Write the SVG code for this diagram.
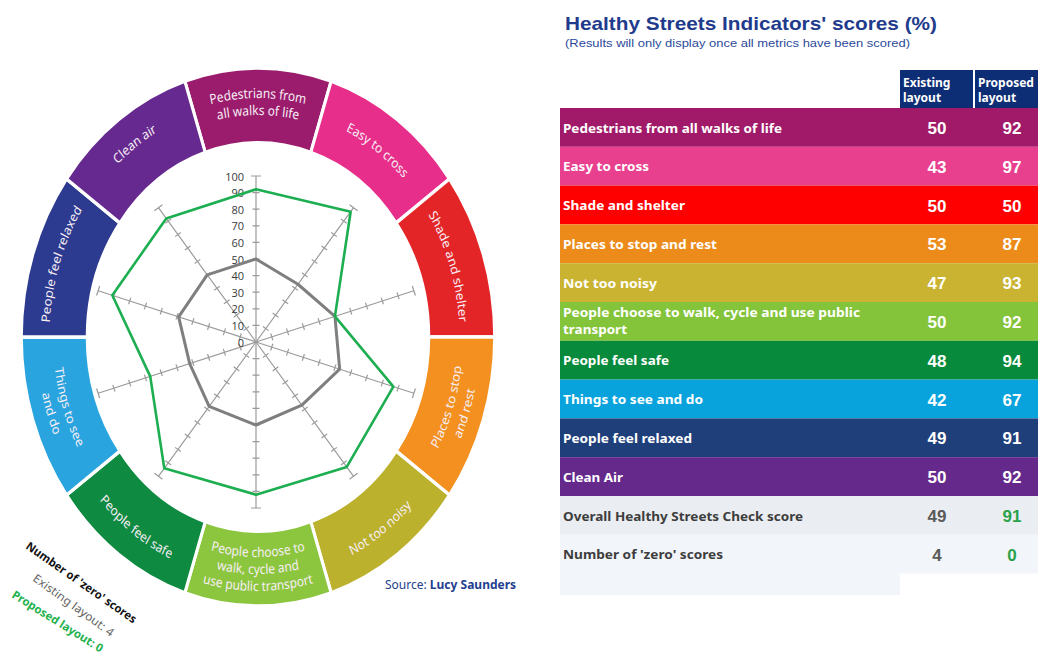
<svg xmlns="http://www.w3.org/2000/svg" xmlns:xlink="http://www.w3.org/1999/xlink" width="1038" height="657" viewBox="0 0 1038 657">
<style>
.seg{stroke:#fff;stroke-width:3.5;stroke-linejoin:miter}
.wt{fill:#f7eef5;font-family:"Noto Sans","Open Sans",sans-serif;font-size:13.5px;text-anchor:middle}
.axis{fill:none;stroke:#9b9b9b;stroke-width:1.2}
.alab{fill:#3a3a3a;font-family:"Open Sans","Noto Sans",sans-serif;font-size:11px;text-anchor:end}
.lab{fill:#fff;font-family:"Noto Sans","Open Sans",sans-serif;font-weight:bold;font-size:12px}
.num{fill:#fff;font-family:"Liberation Sans",Arial,sans-serif;font-weight:bold;font-size:17px;text-anchor:middle}
.hdr{fill:#fff;font-family:"Noto Sans","Open Sans",sans-serif;font-weight:bold;font-size:12px}
</style>
<defs>
<path id="t222" d="M-142.70,-170.05 A222,222 0 0 1 142.70,-170.05"/>
<path id="t229" d="M-147.20,-175.41 A229,229 0 0 1 147.20,-175.41"/>
<path id="t235" d="M-151.06,-180.01 A235,235 0 0 1 151.06,-180.01"/>
<path id="t237" d="M-152.34,-181.54 A237,237 0 0 1 152.34,-181.54"/>
<path id="t239" d="M-153.63,-183.07 A239,239 0 0 1 153.63,-183.07"/>
<path id="b220" d="M-141.42,168.52 A220,220 0 0 0 141.42,168.52"/>
<path id="b233" d="M-149.77,178.48 A233,233 0 0 0 149.77,178.48"/>
<path id="b237" d="M-152.34,181.54 A237,237 0 0 0 152.34,181.54"/>
<path id="b243" d="M-156.20,186.14 A243,243 0 0 0 156.20,186.14"/>
<path id="b252" d="M-161.99,193.03 A252,252 0 0 0 161.99,193.03"/>
<path id="b254" d="M-163.27,194.56 A254,254 0 0 0 163.27,194.56"/>
<path id="spoke" class="axis" d="M0,0V-166 M-3.5,-16.6H3.5 M-3.5,-33.2H3.5 M-3.5,-49.8H3.5 M-3.5,-66.4H3.5 M-3.5,-83H3.5 M-3.5,-99.6H3.5 M-3.5,-116.2H3.5 M-3.5,-132.8H3.5 M-3.5,-149.4H3.5 M-5,-166H5"/>
</defs>
<rect width="1038" height="657" fill="#fff"/>

<g id="wheel" transform="translate(258,337) scale(0.88,1)">
  <g id="seg-pedestrians">
    <path class="seg" fill="#9b1c6c" d="M-83.12,-255.85 A269,269 0 0 1 83.12,-255.85 L59.95,-184.51 A194,194 0 0 0 -59.95,-184.51 Z"/>
    <text class="wt"><textPath xlink:href="#t239" startOffset="50%">Pedestrians from</textPath></text>
    <text class="wt"><textPath xlink:href="#t222" startOffset="50%">all walks of life</textPath></text>
  </g>
  <g id="seg-easy">
    <path class="seg" fill="#e72e8a" d="M83.12,-255.85 A269,269 0 0 1 217.62,-158.12 L156.95,-114.03 A194,194 0 0 0 59.95,-184.51 Z"/>
    <text class="wt" transform="rotate(36)"><textPath xlink:href="#t229" startOffset="50%">Easy to cross</textPath></text>
  </g>
  <g id="seg-shade">
    <path class="seg" fill="#e42527" d="M217.62,-158.12 A269,269 0 0 1 269,0 L194,0 A194,194 0 0 0 156.95,-114.03 Z"/>
    <text class="wt" transform="rotate(72)"><textPath xlink:href="#t229" startOffset="50%">Shade and shelter</textPath></text>
  </g>
  <g id="seg-places">
    <path class="seg" fill="#f3901f" d="M269,0 A269,269 0 0 1 217.62,158.12 L156.95,114.03 A194,194 0 0 0 194,0 Z"/>
    <text class="wt" transform="rotate(-72)"><textPath xlink:href="#b233" startOffset="50%">Places to stop</textPath></text>
    <text class="wt" transform="rotate(-72)"><textPath xlink:href="#b252" startOffset="50%">and rest</textPath></text>
  </g>
  <g id="seg-noisy">
    <path class="seg" fill="#bbb12d" d="M217.62,158.12 A269,269 0 0 1 83.12,255.85 L59.95,184.51 A194,194 0 0 0 156.95,114.03 Z"/>
    <text class="wt" transform="rotate(-36)"><textPath xlink:href="#b243" startOffset="50%">Not too noisy</textPath></text>
  </g>
  <g id="seg-choose">
    <path class="seg" fill="#8cc63e" d="M83.12,255.85 A269,269 0 0 1 -83.12,255.85 L-59.95,184.51 A194,194 0 0 0 59.95,184.51 Z"/>
    <text class="wt"><textPath xlink:href="#b220" startOffset="50%">People choose to</textPath></text>
    <text class="wt"><textPath xlink:href="#b237" startOffset="50%">walk, cycle and</textPath></text>
    <text class="wt"><textPath xlink:href="#b254" startOffset="50%">use public transport</textPath></text>
  </g>
  <g id="seg-safe">
    <path class="seg" fill="#0e8a41" d="M-83.12,255.85 A269,269 0 0 1 -217.62,158.12 L-156.95,114.03 A194,194 0 0 0 -59.95,184.51 Z"/>
    <text class="wt" transform="rotate(36)"><textPath xlink:href="#b243" startOffset="50%">People feel safe</textPath></text>
  </g>
  <g id="seg-things">
    <path class="seg" fill="#29a4de" d="M-217.62,158.12 A269,269 0 0 1 -269,0 L-194,0 A194,194 0 0 0 -156.95,114.03 Z"/>
    <text class="wt" transform="rotate(72)"><textPath xlink:href="#b233" startOffset="50%">Things to see</textPath></text>
    <text class="wt" transform="rotate(72)"><textPath xlink:href="#b252" startOffset="50%">and do</textPath></text>
  </g>
  <g id="seg-relaxed">
    <path class="seg" fill="#2c3a8f" d="M-269,0 A269,269 0 0 1 -217.62,-158.12 L-156.95,-114.03 A194,194 0 0 0 -194,0 Z"/>
    <text class="wt" transform="rotate(-72)"><textPath xlink:href="#t237" startOffset="50%">People feel relaxed</textPath></text>
  </g>
  <g id="seg-clean">
    <path class="seg" fill="#66298f" d="M-217.62,-158.12 A269,269 0 0 1 -83.12,-255.85 L-59.95,-184.51 A194,194 0 0 0 -156.95,-114.03 Z"/>
    <text class="wt" transform="rotate(-36)"><textPath xlink:href="#t235" startOffset="50%">Clean air</textPath></text>
  </g>
</g>

<g id="radar" transform="translate(256,342)">
  <g id="axes">
    <use xlink:href="#spoke"/>
    <use xlink:href="#spoke" transform="rotate(36)"/>
    <use xlink:href="#spoke" transform="rotate(72)"/>
    <use xlink:href="#spoke" transform="rotate(108)"/>
    <use xlink:href="#spoke" transform="rotate(144)"/>
    <use xlink:href="#spoke" transform="rotate(180)"/>
    <use xlink:href="#spoke" transform="rotate(216)"/>
    <use xlink:href="#spoke" transform="rotate(252)"/>
    <use xlink:href="#spoke" transform="rotate(288)"/>
    <use xlink:href="#spoke" transform="rotate(324)"/>
  </g>
  <g id="axis-labels">
    <text class="alab" x="-12" y="4.5">0</text>
    <text class="alab" x="-12" y="-12.1">10</text>
    <text class="alab" x="-12" y="-28.7">20</text>
    <text class="alab" x="-12" y="-45.3">30</text>
    <text class="alab" x="-12" y="-61.9">40</text>
    <text class="alab" x="-12" y="-78.5">50</text>
    <text class="alab" x="-12" y="-95.1">60</text>
    <text class="alab" x="-12" y="-111.7">70</text>
    <text class="alab" x="-12" y="-128.3">80</text>
    <text class="alab" x="-12" y="-144.9">90</text>
    <text class="alab" x="-12" y="-161.5">100</text>
  </g>
  <polygon id="existing" fill="none" stroke="#7f7f7f" stroke-width="3" stroke-linejoin="round" points="0,-83 41.96,-57.75 78.94,-25.65 83.68,27.19 45.86,63.12 0,83 -46.84,64.46 -66.31,21.54 -77.36,-25.13 -48.79,-67.15"/>
  <polygon id="proposed" fill="none" stroke="#1cae50" stroke-width="2.6" stroke-linejoin="round" points="0,-152.72 94.65,-130.27 78.94,-25.65 137.36,44.63 90.74,124.89 0,152.72 -91.72,126.24 -105.78,34.37 -143.67,-46.68 -89.77,-123.55"/>
</g>

<g id="zero-notes" font-family="'Noto Sans','Open Sans',sans-serif" font-size="11.5">
  <text transform="translate(25,548) rotate(35)" font-weight="bold" fill="#111" textLength="132" lengthAdjust="spacingAndGlyphs">Number of 'zero' scores</text>
  <text transform="translate(32,580) rotate(36)" fill="#666" textLength="97" lengthAdjust="spacingAndGlyphs">Existing layout: 4</text>
  <text transform="translate(11,597) rotate(32)" font-weight="bold" fill="#22b14c" textLength="105" lengthAdjust="spacingAndGlyphs">Proposed layout: 0</text>
</g>

<g id="source" font-family="'Noto Sans','Open Sans',sans-serif" font-size="12" fill="#23408e">
  <text x="385" y="589">Source: <tspan font-weight="bold">Lucy Saunders</tspan></text>
</g>

<g id="title" font-family="'Liberation Sans',Arial,sans-serif">
  <text x="565" y="30" font-size="19" font-weight="bold" fill="#1f3b8c" textLength="372" lengthAdjust="spacingAndGlyphs">Healthy Streets Indicators' scores (%)</text>
  <text x="565" y="47" font-size="10.5" fill="#2b4a9b" textLength="345" lengthAdjust="spacingAndGlyphs">(Results will only display once all metrics have been scored)</text>
</g>

<g id="table">
  <g id="header">
    <rect x="900" y="70" width="73" height="38" fill="#0d2d74"/>
    <rect x="975" y="70" width="63" height="38" fill="#0d2d74"/>
    <text class="hdr" x="903" y="87">Existing</text>
    <text class="hdr" x="903" y="102">layout</text>
    <text class="hdr" x="978" y="87">Proposed</text>
    <text class="hdr" x="978" y="102">layout</text>
  </g>
  <g id="row1"><rect x="560" y="108" width="478" height="38.8" fill="#a11a69"/><text class="lab" x="563" y="132.5" textLength="219" lengthAdjust="spacingAndGlyphs">Pedestrians from all walks of life</text><text class="num" x="937" y="134">50</text><text class="num" x="1012" y="134">92</text></g>
  <g id="row2"><rect x="560" y="146.8" width="478" height="38.8" fill="#e83f8f"/><text class="lab" x="563" y="171.3" textLength="86" lengthAdjust="spacingAndGlyphs">Easy to cross</text><text class="num" x="937" y="172.8">43</text><text class="num" x="1012" y="172.8">97</text></g>
  <g id="row3"><rect x="560" y="185.6" width="478" height="38.8" fill="#fe0000"/><text class="lab" x="563" y="210.1" textLength="122" lengthAdjust="spacingAndGlyphs">Shade and shelter</text><text class="num" x="937" y="211.6">50</text><text class="num" x="1012" y="211.6">50</text></g>
  <g id="row4"><rect x="560" y="224.4" width="478" height="38.8" fill="#ec8b1a"/><text class="lab" x="563" y="248.9" textLength="154" lengthAdjust="spacingAndGlyphs">Places to stop and rest</text><text class="num" x="937" y="250.4">53</text><text class="num" x="1012" y="250.4">87</text></g>
  <g id="row5"><rect x="560" y="263.2" width="478" height="38.8" fill="#c9b331"/><text class="lab" x="563" y="287.7" textLength="94" lengthAdjust="spacingAndGlyphs">Not too noisy</text><text class="num" x="937" y="289.2">47</text><text class="num" x="1012" y="289.2">93</text></g>
  <g id="row6"><rect x="560" y="302" width="478" height="38.8" fill="#84c43b"/><text class="lab" x="563" y="317" textLength="297" lengthAdjust="spacingAndGlyphs">People choose to walk, cycle and use public</text><text class="lab" x="563" y="334" textLength="64" lengthAdjust="spacingAndGlyphs">transport</text><text class="num" x="937" y="328">50</text><text class="num" x="1012" y="328">92</text></g>
  <g id="row7"><rect x="560" y="340.8" width="478" height="38.8" fill="#078a3b"/><text class="lab" x="563" y="365.3" textLength="106" lengthAdjust="spacingAndGlyphs">People feel safe</text><text class="num" x="937" y="366.8">48</text><text class="num" x="1012" y="366.8">94</text></g>
  <g id="row8"><rect x="560" y="379.6" width="478" height="38.8" fill="#08a3dc"/><text class="lab" x="563" y="404.1" textLength="140" lengthAdjust="spacingAndGlyphs">Things to see and do</text><text class="num" x="937" y="405.6">42</text><text class="num" x="1012" y="405.6">67</text></g>
  <g id="row9"><rect x="560" y="418.4" width="478" height="38.8" fill="#1f3f7b"/><text class="lab" x="563" y="442.9" textLength="129" lengthAdjust="spacingAndGlyphs">People feel relaxed</text><text class="num" x="937" y="444.4">49</text><text class="num" x="1012" y="444.4">91</text></g>
  <g id="row10"><rect x="560" y="457.2" width="478" height="38.8" fill="#65298c"/><text class="lab" x="563" y="481.7" textLength="60" lengthAdjust="spacingAndGlyphs">Clean Air</text><text class="num" x="937" y="483.2">50</text><text class="num" x="1012" y="483.2">92</text></g>
  <g id="row11"><rect x="560" y="496" width="478" height="38.8" fill="#eaedf1"/><text class="lab" x="563" y="520.5" style="fill:#3d3d3d" textLength="240" lengthAdjust="spacingAndGlyphs">Overall Healthy Streets Check score</text><text class="num" x="937" y="522" style="fill:#5a5a5a">49</text><text class="num" x="1012" y="522" style="fill:#2aa24c">91</text></g>
  <g id="row12"><rect x="560" y="534.8" width="478" height="38.8" fill="#f2f6fa"/><rect x="560" y="573.6" width="340" height="21.4" fill="#f2f6fa"/><text class="lab" x="563" y="559.3" style="fill:#3d3d3d" textLength="160" lengthAdjust="spacingAndGlyphs">Number of 'zero' scores</text><text class="num" x="937" y="560.8" style="fill:#5a5a5a">4</text><text class="num" x="1012" y="560.8" style="fill:#2aa24c">0</text></g>
</g>
</svg>
